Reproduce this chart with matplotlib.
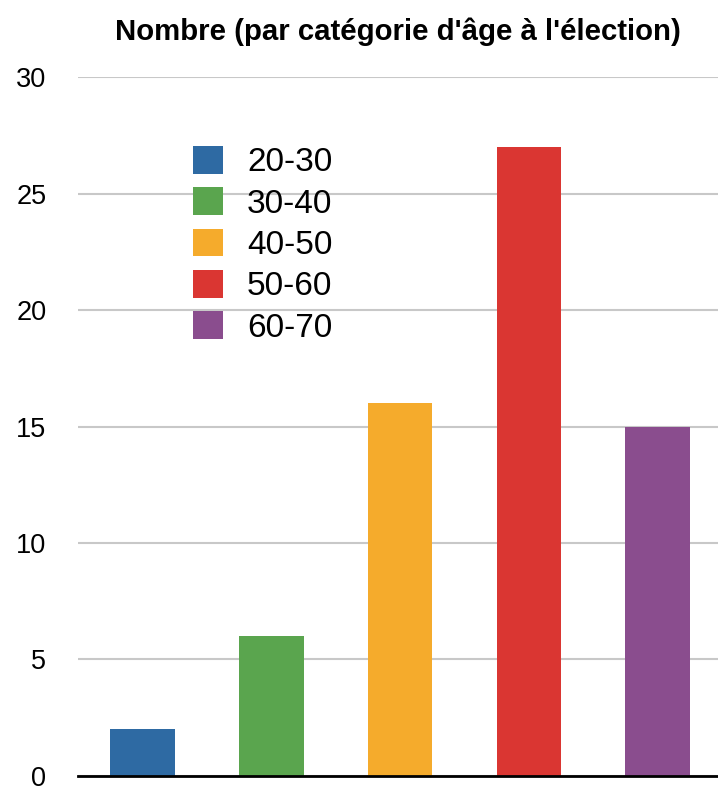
import matplotlib
matplotlib.use("Agg")
import matplotlib.pyplot as plt

plt.rcParams['font.family'] = ['Liberation Sans', 'DejaVu Sans']

# data
categories = ['20-30', '30-40', '40-50', '50-60', '60-70']
counts = [2, 6, 16, 27, 15]
colors = ['#2e6aa3', '#5aa54e', '#f5ab2c', '#da3632', '#8a4d8e']
yticks = [0, 5, 10, 15, 20, 25, 30]

fig = plt.figure(figsize=(7.18, 7.90), dpi=100)
ax = fig.add_axes([0.109, 0.018, 0.891, 0.884])

x = list(range(len(categories)))
bars = ax.bar(x, counts, width=0.5, color=colors, zorder=3)

ax.set_xlim(-0.5, 4.47)
ax.set_ylim(0, 30)
ax.set_yticks(yticks)
ax.set_xticks([])
ax.grid(axis='y', color='#c8c8c8', linewidth=1.5, zorder=0)
for s in ['top', 'right', 'left']:
    ax.spines[s].set_visible(False)
ax.spines['bottom'].set_color('black')
ax.spines['bottom'].set_linewidth(2)
ax.spines['bottom'].set_zorder(4)
ax.tick_params(axis='y', length=0, pad=23, labelsize=19.5)

ax.set_title("Nombre (par catégorie d'âge à l'élection)", fontsize=21.2,
             fontweight='bold', pad=27)

ax.legend(bars, categories, loc='upper left', bbox_to_anchor=(193 / 718, 1 - 146 / 790),
          bbox_transform=fig.transFigure, frameon=False, fontsize=24,
          handlelength=0.9, handleheight=0.9, handletextpad=0.72,
          labelspacing=0.27, borderpad=0, borderaxespad=0)

fig.savefig('out.png', dpi=100)
